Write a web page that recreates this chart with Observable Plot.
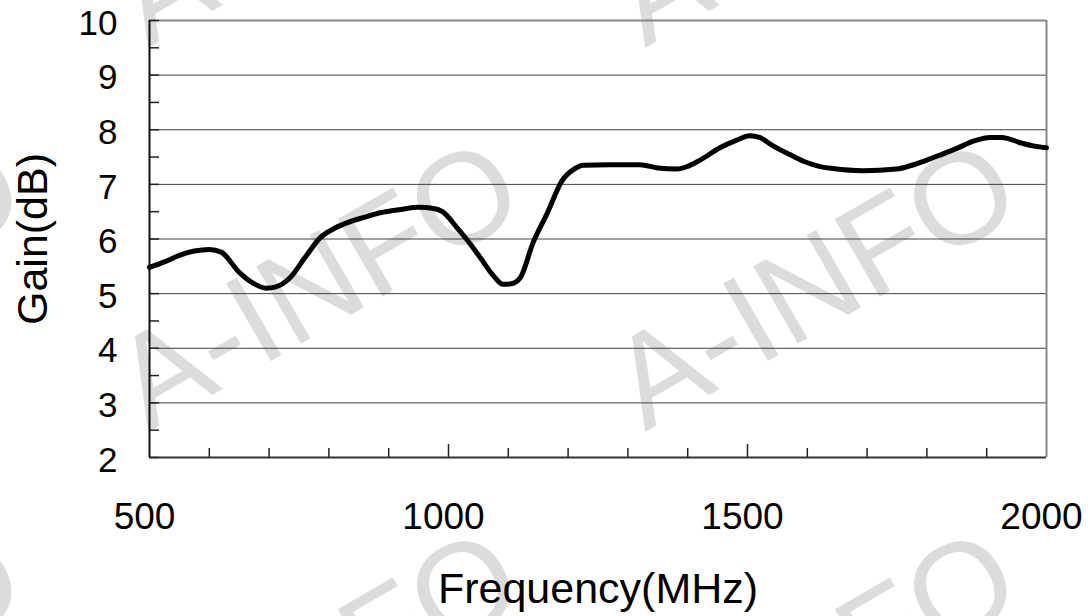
<!DOCTYPE html>
<html>
<head>
<meta charset="utf-8">
<script src="https://cdn.jsdelivr.net/npm/d3@7"></script>
<script src="https://cdn.jsdelivr.net/npm/@observablehq/plot@0.6"></script>
<style>
  html, body { margin: 0; padding: 0; background: #fff; }
  #wrap { position: relative; width: 1088px; height: 616px; overflow: hidden; }
  #wm, #chart svg { position: absolute; left: 0; top: 0; }
</style>
</head>
<body>
<div id="wrap">
  <svg id="wm" width="1088" height="616"></svg>
  <div id="chart"></div>
</div>
<script>
// ---- data ----
const freq = [500, 525, 550, 575, 600, 620, 650, 675, 695, 710, 735, 760, 786, 810, 831, 860, 886, 920, 950, 975, 990, 1014, 1030, 1053, 1075, 1091, 1105, 1120, 1141, 1165, 1190, 1210, 1225, 1270, 1320, 1350, 1382, 1400, 1420, 1454, 1480, 1504, 1520, 1542, 1570, 1599, 1620, 1643, 1693, 1749, 1775, 1799, 1825, 1850, 1880, 1905, 1925, 1960, 1980, 2000];
const gain = [5.48, 5.58, 5.70, 5.78, 5.81, 5.76, 5.39, 5.18, 5.10, 5.12, 5.29, 5.66, 6.03, 6.20, 6.30, 6.40, 6.48, 6.54, 6.58, 6.56, 6.50, 6.21, 6.00, 5.66, 5.33, 5.17, 5.18, 5.29, 5.92, 6.47, 7.07, 7.28, 7.35, 7.36, 7.36, 7.30, 7.28, 7.33, 7.44, 7.67, 7.80, 7.89, 7.86, 7.71, 7.55, 7.40, 7.33, 7.29, 7.25, 7.28, 7.35, 7.44, 7.55, 7.66, 7.80, 7.86, 7.86, 7.75, 7.70, 7.67];
const xTickLabels = [500, 1000, 1500, 2000];
const xMinorTicks = [600, 700, 800, 900, 1100, 1200, 1300, 1400, 1600, 1700, 1800, 1900];
const xMajorInner = [1000, 1500];
const yTickLabels = [2, 3, 4, 5, 6, 7, 8, 9, 10];
const yGrid = [3, 4, 5, 6, 7, 8, 9];
const yAllTicks = [2, 2.5, 3, 3.5, 4, 4.5, 5, 5.5, 6, 6.5, 7, 7.5, 8, 8.5, 9, 9.5, 10];
const xTitle = ["Frequency(MHz)"];
const yTitle = ["Gain(dB)"];

const rows = freq.map((f, i) => ({freq: f, gain: gain[i]}));

// ---- watermark (decorative background text) ----
const wm = document.getElementById("wm");
const wmCols = [-350, 148, 645];
const wmRows = [48, 432, 822];
for (const cx of wmCols) for (const cy of wmRows) {
  const t = document.createElementNS("http://www.w3.org/2000/svg", "text");
  t.setAttribute("transform", `translate(${cx},${cy}) rotate(-30)`);
  t.setAttribute("font-family", "Liberation Sans, Arial, sans-serif");
  t.setAttribute("font-size", "130");
  t.setAttribute("fill", "#dcdcdc");
  t.textContent = "A-INFO";
  wm.appendChild(t);
}

const W = 1088, H = 616;
const mL = 149, mR = 42, mT = 20, mB = 159;
const frameW = W - mL - mR, frameH = H - mT - mB;

const chart = Plot.plot({
  width: W,
  height: H,
  marginLeft: mL,
  marginRight: mR,
  marginTop: mT,
  marginBottom: mB,
  style: {background: "transparent", fontFamily: "Liberation Sans, Arial, sans-serif", color: "black"},
  x: {domain: [500, 2000]},
  y: {domain: [2, 10]},
  marks: [
    Plot.ruleY(yGrid, {stroke: "#404040", strokeWidth: 1}),
    Plot.ruleY([10], {stroke: "#888", strokeWidth: 2}),
    Plot.ruleX([2000], {stroke: "#888", strokeWidth: 2}),
    Plot.ruleY(yAllTicks, {stroke: "#222", strokeWidth: 1.5, insetRight: frameW - 10}),
    Plot.ruleX(xMinorTicks, {stroke: "#222", strokeWidth: 1.5, insetTop: frameH - 9}),
    Plot.ruleX(xMajorInner, {stroke: "#222", strokeWidth: 1.5, insetTop: frameH - 13}),
    Plot.line(rows, {x: "freq", y: "gain", stroke: "black", strokeWidth: 5, curve: "monotone-x"}),
    Plot.ruleY([2], {stroke: "#333", strokeWidth: 2}),
    Plot.ruleX([500], {stroke: "#111", strokeWidth: 2}),
    Plot.axisX({ticks: xTickLabels, tickSize: 0, tickPadding: 45, fontSize: 37, dx: -5, tickFormat: d => String(d), label: null}),
    Plot.axisY({ticks: yTickLabels, tickSize: 0, tickPadding: 32, fontSize: 35, dy: 3, tickFormat: d => String(d), label: null}),
    Plot.text(xTitle, {text: d => d, frameAnchor: "bottom", lineAnchor: "middle", textAnchor: "middle", dy: 132, fontSize: 43, fill: "black"}),
    Plot.text(yTitle, {text: d => d, frameAnchor: "left", lineAnchor: "middle", textAnchor: "middle", dx: -116, rotate: -90, fontSize: 43, fill: "black"})
  ]
});
document.getElementById("chart").appendChild(chart);
</script>
</body>
</html>
